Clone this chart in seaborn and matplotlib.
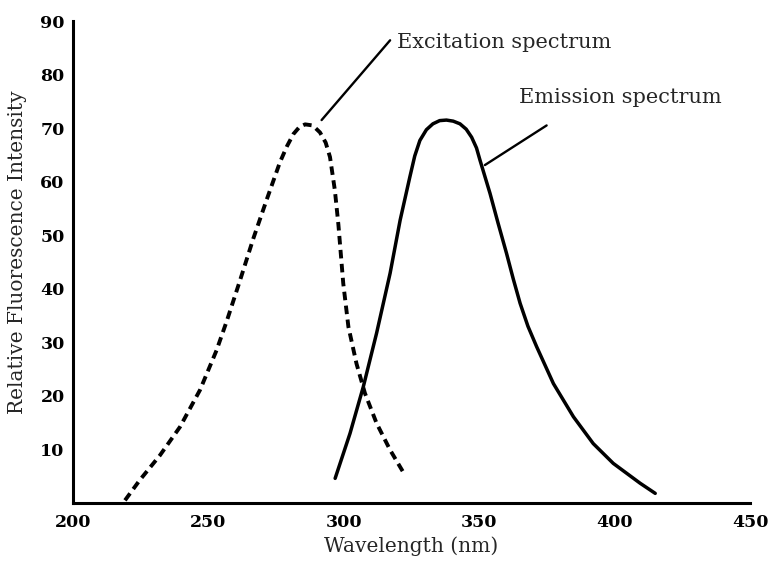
import matplotlib
matplotlib.use("Agg")
import matplotlib.pyplot as plt
import seaborn as sns
import pandas as pd

# Excitation spectrum (dashed)
exc_wl = [219.2, 224.7, 232.1, 239.5, 246.9, 253.0, 256.8, 261.7, 266.6, 271.5,
          276.4, 279.0, 281.4, 283.6, 285.7, 288.5, 291.2, 293.3, 294.9, 296.7,
          298.0, 299.8, 301.7, 304.7, 307.8, 312.1, 317.1, 322.6]
exc_int = [0.5, 4.3, 8.9, 14.2, 21.1, 28.5, 34.0, 41.6, 49.4, 56.6,
           63.6, 66.6, 68.9, 70.2, 70.7, 70.5, 69.2, 67.3, 64.6, 58.4,
           52.0, 41.0, 32.9, 26.0, 20.5, 14.9, 9.9, 5.2]

# Emission spectrum (solid)
emi_wl = [296.8, 302.3, 307.2, 312.1, 317.1, 320.8, 324.4, 326.2, 328.1, 330.5,
          332.9, 335.4, 337.9, 340.4, 342.9, 345.2, 347.2, 349.0, 350.3, 354.0,
          357.0, 360.1, 362.6, 365.1, 368.0, 371.2, 377.4, 384.8, 392.1, 399.5,
          409.4, 415.0]
emi_int = [4.6, 13.0, 21.7, 31.7, 42.9, 52.8, 60.9, 64.8, 67.7, 69.7,
           70.8, 71.4, 71.5, 71.3, 70.8, 69.8, 68.3, 66.3, 64.0, 57.8,
           52.2, 46.6, 41.8, 37.3, 33.0, 29.2, 22.3, 16.1, 11.1, 7.4,
           3.7, 1.8]

x_ticks = [200, 250, 300, 350, 400, 450]
y_ticks = [10, 20, 30, 40, 50, 60, 70, 80, 90]

# Annotation texts and leader lines
exc_label = "Excitation spectrum"
exc_label_pos = (319.6, 86.0)
exc_leader_x = [291.8, 317.1]
exc_leader_y = [71.5, 86.4]
emi_label = "Emission spectrum"
emi_label_pos = (364.7, 75.8)
emi_leader_x = [352.1, 374.9]
emi_leader_y = [63.1, 70.5]

sns.set_style("white")
plt.rcParams['font.family'] = ['DejaVu Serif', 'DejaVu Sans']

fig = plt.figure(figsize=(7.73, 5.63), dpi=100)
ax = fig.add_axes([73/773, 1 - 503/563, (750 - 73)/773, 482/563])

exc_df = pd.DataFrame({"Wavelength": exc_wl, "Intensity": exc_int})
emi_df = pd.DataFrame({"Wavelength": emi_wl, "Intensity": emi_int})

sns.lineplot(data=exc_df, x="Wavelength", y="Intensity", ax=ax, color="black",
             linewidth=2.8, linestyle=(0, (2.2, 1.4)), estimator=None, sort=False)
sns.lineplot(data=emi_df, x="Wavelength", y="Intensity", ax=ax, color="black",
             linewidth=2.5, estimator=None, sort=False)

ax.set_xlim(200, 450)
ax.set_ylim(0, 90)
ax.set_xticks(x_ticks)
ax.set_yticks(y_ticks)
ax.set_xticklabels([str(v) for v in x_ticks], fontsize=12.5, fontweight="bold")
ax.set_yticklabels([str(v) for v in y_ticks], fontsize=12.5, fontweight="bold")
ax.tick_params(direction="in", length=4, width=1.2, colors="black", pad=6)
ax.tick_params(axis="x", pad=8)

for s in ["top", "right"]:
    ax.spines[s].set_visible(False)
for s in ["left", "bottom"]:
    ax.spines[s].set_linewidth(2.2)
    ax.spines[s].set_color("black")

ax.set_xlabel("Wavelength (nm)", fontsize=14.5, labelpad=4)
ax.set_ylabel("Relative Fluorescence Intensity", fontsize=14.5)
ax.yaxis.set_label_coords(-0.068, 0.52)

# Annotations
ax.plot(exc_leader_x, exc_leader_y, color="black", lw=1.7, solid_capstyle="round")
ax.text(exc_label_pos[0], exc_label_pos[1], exc_label, fontsize=15,
        va="center", ha="left")
ax.plot(emi_leader_x, emi_leader_y, color="black", lw=1.7, solid_capstyle="round")
ax.text(emi_label_pos[0], emi_label_pos[1], emi_label, fontsize=15,
        va="center", ha="left")

fig.savefig("out.png", dpi=100)
